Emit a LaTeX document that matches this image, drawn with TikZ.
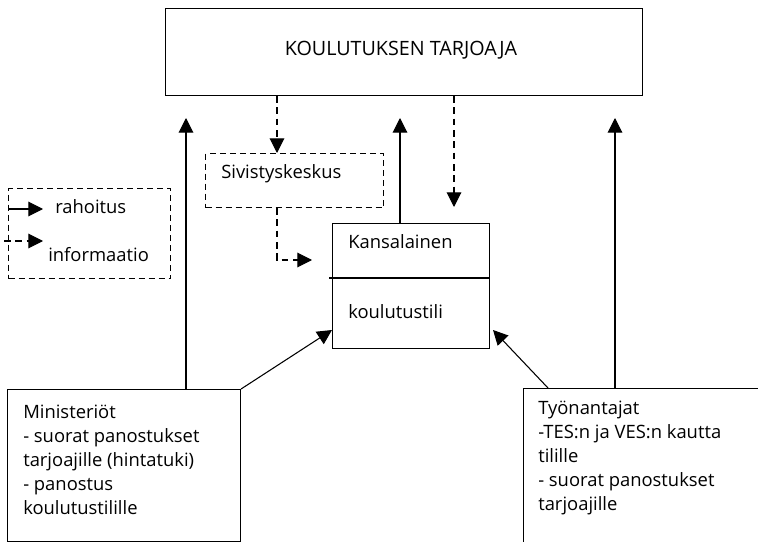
\documentclass[tikz,border=0pt]{standalone}
\usepackage{fontspec}
\setmainfont{Open Sans}
\usetikzlibrary{arrows.meta}
\newcommand{\lines}[1]{\begin{tabular}[t]{@{}l@{}}#1\end{tabular}}
\begin{document}
\begin{tikzpicture}[x=0.75pt,y=-0.75pt,
  box/.style={draw,line width=0.8pt,inner sep=0pt,anchor=north west},
  dbox/.style={box,dash pattern=on 4.5pt off 3pt},
  txt/.style={anchor=base west,inner sep=0pt,font=\fontsize{13.8}{18}\selectfont},
  fund/.style={line width=0.8pt,-{Triangle[length=11pt,width=11pt]}},
  info/.style={fund,dash pattern=on 5pt off 3.5pt}]
\clip (0,0) rectangle (758,542);
% boxes
\node[box,minimum width=477*0.75pt,minimum height=87*0.75pt] (top) at (165,8) {};
\node[txt,anchor=base,font=\fontsize{14.8}{18}\selectfont] (toptxt) at (401,56) {KOULUTUKSEN TARJOAJA};
\node[dbox,minimum width=178*0.75pt,minimum height=54*0.75pt] (siv) at (205,153) {};
\node[txt] (sivtxt) at (221,179) {Sivistyskeskus};
\node[box,minimum width=157*0.75pt,minimum height=125*0.75pt] (kans) at (332,223) {};
\coordinate (divl) at (329,278);
\draw[line width=0.8pt] (divl) -- (divl -| kans.east);
\node[txt] (kanstxt) at (348,248) {Kansalainen};
\node[txt] (tilitxt) at (348,318) {koulutustili};
\node[box,minimum width=233*0.75pt,minimum height=152*0.75pt] (min) at (7,389) {};
\node[txt] (mintxt) at (23,418) {\lines{Ministeriöt\\- suorat panostukset\\tarjoajille (hintatuki)\\- panostus\\koulutustilille}};
\node[box,minimum width=260*0.75pt,minimum height=180*0.75pt] (ty) at (523,388) {};
\node[txt] (tytxt) at (538,414) {\lines{Työnantajat\\-TES:n ja VES:n kautta\\tilille\\- suorat panostukset\\tarjoajille}};
% legend
\node[dbox,minimum width=162*0.75pt,minimum height=90*0.75pt] (leg) at (8,188) {};
\coordinate (l1) at (43,209);
\coordinate (l2) at (43,241);
\draw[fund] (leg.west |- l1) -- (l1);
\draw[info] ([xshift=-3pt]leg.west |- l2) -- (l2);
\node[txt] (rah) at (55,214) {rahoitus};
\node[txt] (inf) at (48,262) {informaatio};
% connectors
\coordinate (c1) at (277,0);
\coordinate (c2) at (454,207);
\coordinate (e3) at (312,260);
\coordinate (k1) at (400,118);
\coordinate (m1) at (186,118);
\coordinate (t1) at (615,118);
\draw[info] (top.south -| c1) -- (siv.north -| c1);
\draw[info] (top.south -| c2) -- (c2);
\draw[info] (siv.south -| c1) |- (e3);
\draw[fund] (kans.north -| k1) -- (k1);
\draw[fund] (min.north -| m1) -- (m1);
\draw[fund] (ty.north -| t1) -- (t1);
\draw[fund] (min.north east) -- (kans.west |- 0,330);
\coordinate (ts) at (548,388);
\coordinate (te) at (493,330);
\draw[fund] (ts) -- (te);
\end{tikzpicture}
\end{document}
